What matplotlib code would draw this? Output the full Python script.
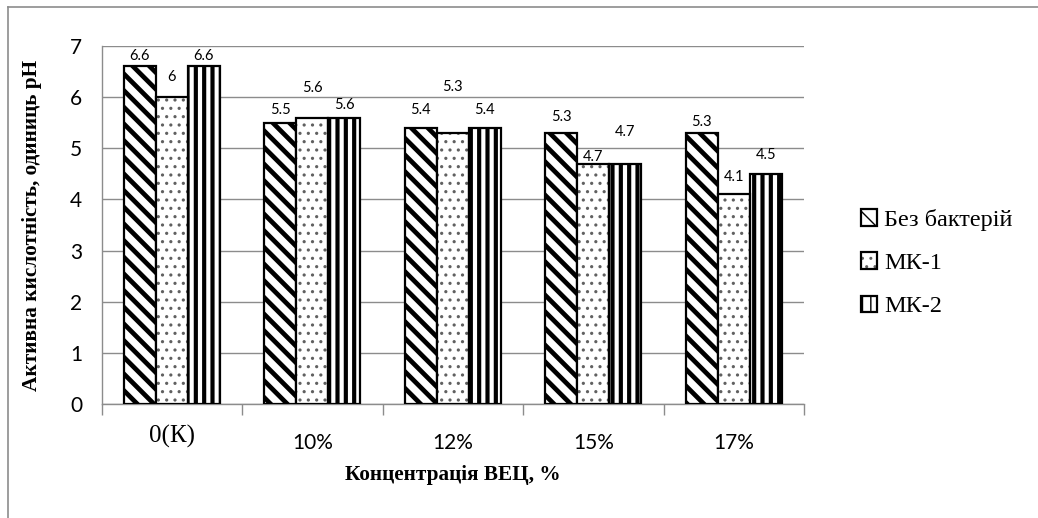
import matplotlib.pyplot as plt
import matplotlib.transforms as mtransforms
from matplotlib.lines import Line2D
import numpy as np

categories = ['0(К)', '10%', '12%', '15%', '17%']
series_names = ['Без бактерій', 'МК-1', 'МК-2']
bez_bakteriy = [6.6, 5.5, 5.4, 5.3, 5.3]
mk1 = [6, 5.6, 5.3, 4.7, 4.1]
mk2 = [6.6, 5.6, 5.4, 4.7, 4.5]

# how far above each bar top its value label sits, pixels
label_dy = [
    [10, 13, 18, 16, 11],
    [20, 30, 46, 7, 17],
    [10, 13, 18, 32, 19],
]

SANS = ['Lato', 'DejaVu Sans']
SERIF = ['Liberation Serif', 'DejaVu Serif']
GRID = '#8c8c8c'


def main():
    fig = plt.figure(figsize=(10.38, 5.18), dpi=100)
    ax = fig.add_axes([0.098, 0.2201, 0.6766, 0.6911])

    x = np.arange(len(categories))
    w = 0.228

    with plt.rc_context({'hatch.linewidth': 3.4}):
        b1 = ax.bar(x - w, bez_bakteriy, w, facecolor='white', edgecolor='black',
                    linewidth=1.6, hatch='\\\\', zorder=3)
    with plt.rc_context({'hatch.linewidth': 1.1}):
        b2_fill = ax.bar(x, mk1, w, facecolor='white', edgecolor='#606060',
                         linewidth=0, hatch='..', zorder=3)
    b2_edge = ax.bar(x, mk1, w, fill=False, edgecolor='black', linewidth=1.6, zorder=4)
    with plt.rc_context({'hatch.linewidth': 3.0}):
        b3 = ax.bar(x + w, mk2, w, facecolor='white', edgecolor='black',
                    linewidth=1.6, hatch='||', zorder=3)

    for k, (vals, dx) in enumerate(zip([bez_bakteriy, mk1, mk2], [-w, 0, w])):
        for i, v in enumerate(vals):
            ax.annotate('{:g}'.format(v), xy=(x[i] + dx, v), xytext=(0, label_dy[k][i]),
                        textcoords='offset pixels', ha='center', va='center',
                        fontsize=10.5, family=SANS, zorder=5)

    ax.set_xlim(-0.5, len(categories) - 0.5)
    ax.set_ylim(0, 7)
    ax.set_yticks(range(8))
    ax.yaxis.grid(True, color=GRID, linewidth=1)
    ax.set_axisbelow(True)

    for s in ['top', 'right']:
        ax.spines[s].set_visible(False)
    for s in ['left', 'bottom']:
        ax.spines[s].set_color(GRID)
        ax.spines[s].set_linewidth(1)

    ax.tick_params(axis='y', length=0, pad=14, labelsize=15)
    for t in ax.get_yticklabels():
        t.set_family(SANS)

    ax.set_xticks(x)
    ax.set_xticklabels(categories)
    ax.set_xticks(np.arange(-0.5, len(categories)), minor=True)
    ax.tick_params(axis='x', which='major', length=0, pad=21, labelsize=15)
    ax.tick_params(axis='x', which='minor', length=8, color=GRID, width=1)
    for t in ax.get_xticklabels():
        t.set_family(SANS)
    first = ax.get_xticklabels()[0]
    first.set_family(SERIF)
    first.set_fontsize(18)
    first.set_transform(first.get_transform() +
                        mtransforms.ScaledTranslation(0, 8 / 100, fig.dpi_scale_trans))

    ax.set_ylabel('Активна кислотність, одиниць pH', family=SERIF, fontweight='bold',
                  fontsize=15.3, va='center')
    ax.yaxis.set_label_coords(-0.099, 0.5)
    ax.set_xlabel('Концентрація ВЕЦ, %', family=SERIF, fontweight='bold',
                  fontsize=15.3, va='center')
    ax.xaxis.set_label_coords(0.5, -0.198)

    fig.legend([b1, (b2_fill, b2_edge), b3], series_names, loc='center left',
               bbox_to_anchor=(0.8295, 0.492), frameon=False, borderpad=0,
               borderaxespad=0, handlelength=0.65, handleheight=0.65,
               handletextpad=0.3, labelspacing=0.88,
               prop={'family': SERIF, 'size': 17.5})

    # outer frame, only top and left edges
    fig.add_artist(Line2D([8 / 1038, 1], [1 - 7 / 518, 1 - 7 / 518],
                          transform=fig.transFigure, color='#8c8c8c', linewidth=1.2))
    fig.add_artist(Line2D([8 / 1038, 8 / 1038], [0, 1 - 7 / 518],
                          transform=fig.transFigure, color='#8c8c8c', linewidth=1.2))

    fig.savefig('out.png', dpi=100)


if __name__ == '__main__':
    main()
